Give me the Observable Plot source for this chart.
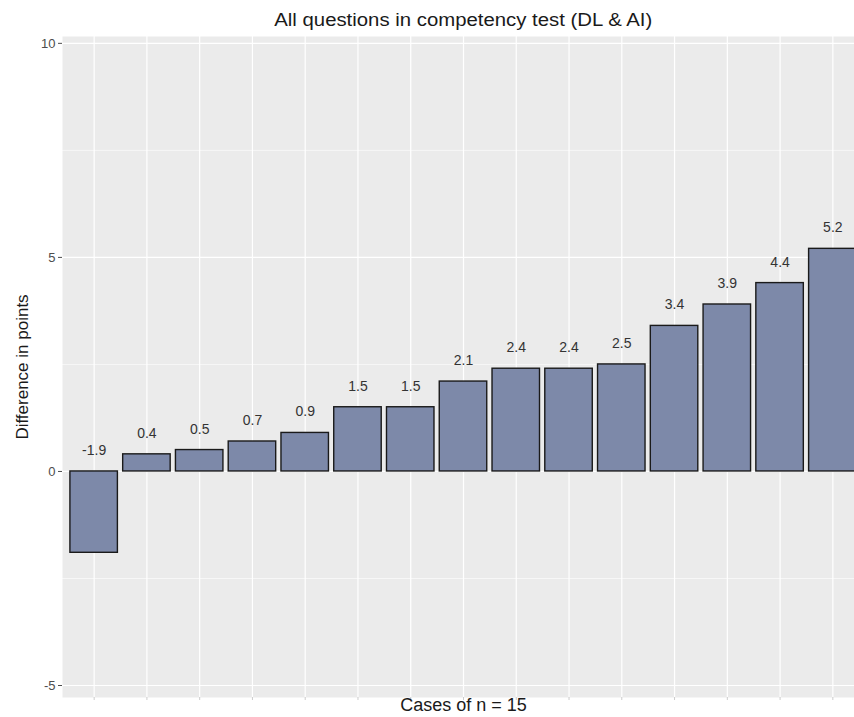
<!DOCTYPE html>
<html>
<head>
<meta charset="utf-8">
<script src="https://cdn.jsdelivr.net/npm/d3@7"></script>
<script src="https://cdn.jsdelivr.net/npm/@observablehq/plot@0.6"></script>
<style>
  html, body { margin: 0; padding: 0; background: #fff; overflow: hidden; width: 854px; height: 717px; }
  #wrap { position: relative; width: 870px; font-family: "Liberation Sans", Arial, sans-serif; }
  #title { height: 30px; width: 802px; margin-left: 62px; text-align: center; font-size: 18px; color: #1a1a1a; line-height: 40px; white-space: nowrap; }
  #title span { display: inline-block; transform: scaleX(1.13); }
  svg { display: block; }
</style>
</head>
<body>
<div id="wrap">
  <div id="title"><span>All questions in competency test (DL &amp; AI)</span></div>
  <div id="chart"></div>
</div>
<script>
const cases = ["1","2","3","4","5","6","7","8","9","10","11","12","13","14","15"];
const values = [-1.9, 0.4, 0.5, 0.7, 0.9, 1.5, 1.5, 2.1, 2.4, 2.4, 2.5, 3.4, 3.9, 4.4, 5.2];
const labels = ["-1.9","0.4","0.5","0.7","0.9","1.5","1.5","2.1","2.4","2.4","2.5","3.4","3.9","4.4","5.2"];
const majorTicks = [-5, 0, 5, 10];
const minorTicks = [-2.5, 2.5, 7.5];

const data = cases.map((c, i) => ({case: c, value: values[i], label: labels[i], labelY: Math.max(values[i], 0)}));

const chart = Plot.plot({
  width: 870,
  height: 687,
  marginTop: 6,
  marginLeft: 62,
  marginRight: 6,
  marginBottom: 20,
  style: {fontFamily: "'Liberation Sans', Arial, sans-serif", background: "transparent"},
  x: {domain: cases, paddingInner: 0.1, paddingOuter: 0.15, round: false, axis: null},
  y: {domain: [-5.28, 10.16], axis: null},
  marks: [
    Plot.frame({fill: "#ebebeb", stroke: null}),
    Plot.ruleY(minorTicks, {stroke: "white", strokeWidth: 0.6}),
    Plot.ruleY(majorTicks, {stroke: "white", strokeWidth: 1.2}),
    Plot.gridX(cases, {stroke: "white", strokeOpacity: 1, strokeWidth: 1.2}),
    Plot.barY(data, {x: "case", y1: 0, y2: "value", fill: "#7d89a9", stroke: "#1a1a1a", strokeWidth: 1.4}),
    Plot.text(data, {x: "case", y: "labelY", text: "label", dy: -21, fontSize: 14, fill: "#333333"}),
    Plot.axisY(majorTicks, {tickSize: 4, stroke: "#4d4d4d", text: null, label: null}),
    Plot.text(majorTicks, {y: d => d, text: d => String(d), frameAnchor: "left", dx: -7, textAnchor: "end", fontSize: 13, fill: "#4d4d4d"}),
    Plot.axisX(cases, {tickSize: 3, stroke: "#cccccc", tickFormat: () => "", label: null}),
    Plot.text(["Difference in points"], {frameAnchor: "left", dx: -40, rotate: -90, textAnchor: "middle", fontSize: 17, fill: "#1a1a1a"}),
    Plot.text(["Cases of n = 15"], {frameAnchor: "bottom", dy: 13, fontSize: 18, fill: "#1a1a1a"})
  ]
});
document.getElementById("chart").appendChild(chart);
</script>
</body>
</html>
